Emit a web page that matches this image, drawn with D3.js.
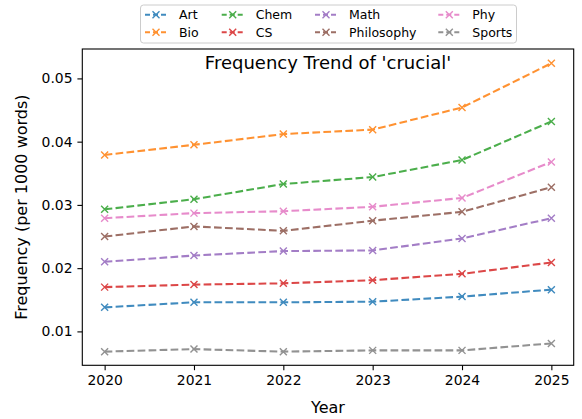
<!DOCTYPE html>
<html>
<head>
<meta charset="utf-8">
<script src="https://cdn.jsdelivr.net/npm/d3@7"></script>
<style>
  body { margin: 0; background: #fff; }
  svg text { font-family: "DejaVu Sans", sans-serif; fill: #000; }
</style>
</head>
<body>
<div id="chart"></div>
<script>
// data
const years = [2020, 2021, 2022, 2023, 2024, 2025];
const subjects = ["Art", "Bio", "Chem", "CS", "Math", "Philosophy", "Phy", "Sports"];
const art        = [0.0138, 0.0146, 0.0146, 0.0147, 0.0155, 0.0166];
const bio        = [0.0379, 0.0395, 0.0412, 0.0419, 0.0454, 0.0524];
const chem       = [0.0293, 0.0309, 0.0333, 0.0344, 0.0371, 0.0432];
const cs         = [0.0170, 0.0174, 0.0176, 0.0181, 0.0191, 0.0209];
const math       = [0.0210, 0.0220, 0.0227, 0.0228, 0.0247, 0.0279];
const philosophy = [0.0250, 0.0266, 0.0259, 0.0275, 0.0289, 0.0328];
const phy        = [0.0279, 0.0287, 0.0290, 0.0297, 0.0311, 0.0368];
const sports     = [0.0068, 0.0072, 0.0068, 0.0070, 0.0070, 0.0081];
const yTicks = [0.01, 0.02, 0.03, 0.04, 0.05];

const series = [art, bio, chem, cs, math, philosophy, phy, sports]
  .map((vals, i) => ({name: subjects[i], values: vals}));

const W = 582, H = 419;
const margin = {top: 49, right: 8.3, bottom: 53.7, left: 82.3},
      width = W - margin.left - margin.right,
      height = H - margin.top - margin.bottom;

const x = d3.scaleLinear().domain([2019.75, 2025.25]).range([0, width]);
const y = d3.scaleLinear().domain([0.00464, 0.05465]).range([height, 0]);
const c = d3.scaleOrdinal(subjects, d3.schemeCategory10);

const svg = d3.select("#chart").append("svg")
    .attr("width", W)
    .attr("height", H);

const g = svg.append("g")
    .attr("transform", "translate(" + margin.left + "," + margin.top + ")");

// axes
const xAxis = g.append("g")
    .attr("transform", "translate(0," + height + ")")
    .call(d3.axisBottom(x).tickValues(years).tickFormat(d3.format("d"))
      .tickSizeInner(4.9).tickSizeOuter(0).tickPadding(4.9));
const yAxis = g.append("g")
    .call(d3.axisLeft(y).tickValues(yTicks).tickFormat(d3.format(".2f"))
      .tickSizeInner(4.9).tickSizeOuter(0).tickPadding(4.9));

[xAxis, yAxis].forEach(a => {
  a.select(".domain").remove();
  a.selectAll(".tick line").attr("stroke", "#000").attr("stroke-width", 1.1);
  a.selectAll(".tick text").attr("font-size", 13.9);
});

// frame
g.append("rect")
  .attr("width", width)
  .attr("height", height)
  .attr("fill", "none")
  .attr("stroke", "#000")
  .attr("stroke-width", 1.1);

// lines + markers
const line = d3.line()
  .x((d, i) => x(years[i]))
  .y(d => y(d));

const sg = g.selectAll(".series")
  .data(series)
  .enter().append("g")
  .attr("class", "series")
  .attr("opacity", 0.85);

sg.append("path")
  .attr("d", d => line(d.values))
  .attr("fill", "none")
  .attr("stroke", d => c(d.name))
  .attr("stroke-width", 2.08)
  .attr("stroke-dasharray", "7.7,3.3");

const m = 3.5;
function cross(sel, color) {
  sel.append("path")
    .attr("d", "M" + -m + "," + -m + "L" + m + "," + m + "M" + -m + "," + m + "L" + m + "," + -m)
    .attr("stroke", color)
    .attr("stroke-width", 1.39)
    .attr("fill", "none");
}

sg.each(function(s) {
  const gs = d3.select(this);
  s.values.forEach((v, i) => {
    const mk = gs.append("g")
      .attr("transform", "translate(" + x(years[i]) + "," + y(v) + ")");
    cross(mk, c(s.name));
  });
});

// title
g.append("text")
  .attr("x", width / 2)
  .attr("y", 20)
  .attr("text-anchor", "middle")
  .attr("font-size", 18)
  .text("Frequency Trend of 'crucial'");

// axis labels
svg.append("text")
  .attr("x", margin.left + width / 2)
  .attr("y", 413)
  .attr("text-anchor", "middle")
  .attr("font-size", 16)
  .text("Year");

svg.append("text")
  .attr("text-anchor", "middle")
  .attr("transform", "translate(27," + (margin.top + height / 2) + ")rotate(-90)")
  .attr("font-size", 16)
  .text("Frequency (per 1000 words)");

// legend: 4 columns, 2 rows (column-major order)
const legend = svg.append("g");
legend.append("rect")
  .attr("x", 140.5).attr("y", 5)
  .attr("width", 376).attr("height", 38)
  .attr("rx", 3)
  .attr("fill", "#fff")
  .attr("fill-opacity", 0.8)
  .attr("stroke", "#ccc")
  .attr("stroke-width", 1);

const colX = [145, 221.7, 315, 438.3];
const rowY = [14.7, 32.3];
subjects.forEach((name, i) => {
  const col = Math.floor(i / 2), row = i % 2;
  const li = legend.append("g")
    .attr("transform", "translate(" + colX[col] + "," + rowY[row] + ")")
    .attr("opacity", 0.85);
  li.append("line")
    .attr("x1", 0).attr("x2", 22)
    .attr("stroke", c(name))
    .attr("stroke-width", 2.08)
    .attr("stroke-dasharray", "5,3");
  cross(li.append("g").attr("transform", "translate(11,0)"), c(name));
  legend.append("text")
    .attr("x", colX[col] + 34)
    .attr("y", rowY[row])
    .attr("dy", "0.35em")
    .attr("font-size", 12.5)
    .text(name);
});
</script>
</body>
</html>
